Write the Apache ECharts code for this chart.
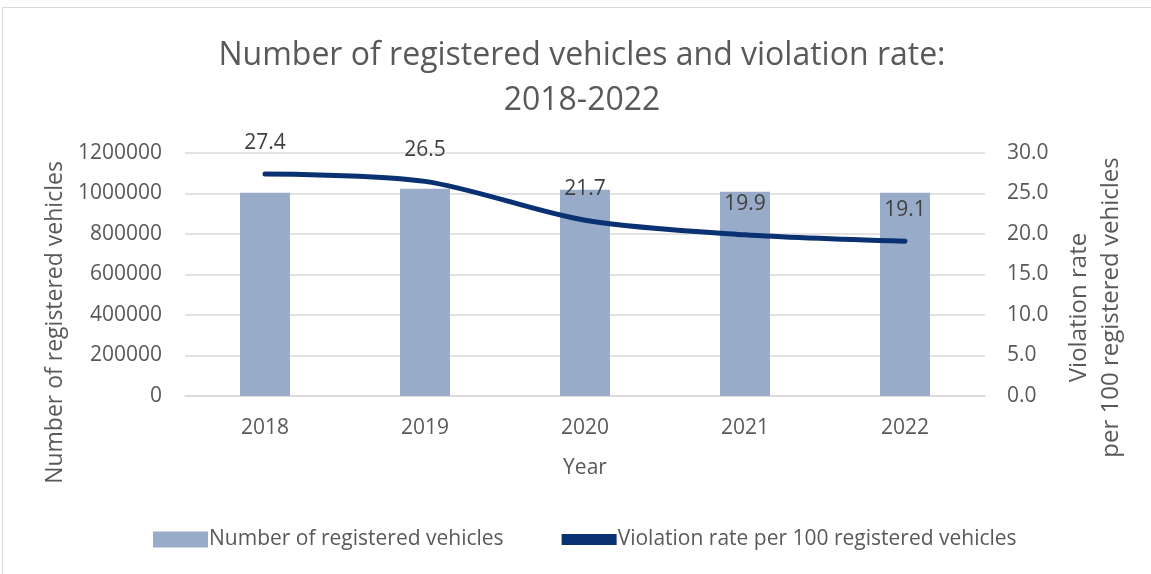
<!doctype html>
<html>
<head>
<meta charset="utf-8">
<title>Registered vehicles</title>
<script src="https://cdn.jsdelivr.net/npm/echarts@6/dist/echarts.min.js"></script>
<style>
    html,body{margin:0;padding:0;background:#fff;overflow:hidden;}
    #main{position:absolute;left:0;top:0;width:1151px;height:574px;}
    #frame{position:absolute;left:2px;top:7px;width:1200px;height:600px;border:1px solid #d9d9d9;}
</style>
</head>
<body>
<div id="main"></div>
<div id="frame"></div>
<script>
var years = ['2018', '2019', '2020', '2021', '2022'];
var vehicles = [1004000, 1024000, 1019000, 1009000, 1004000];
var violationRate = [27.4, 26.5, 21.7, 19.9, 19.1];
var leftTicks = [0, 1200000, 200000];
var rightTicks = [0, 30, 5];

var txt = '#595959';
var font = 'Open Sans';
var myChart = echarts.init(document.getElementById('main'));

var option = {
    backgroundColor: 'transparent',
    textStyle: {fontFamily: font},
    title: {
        text: 'Number of registered vehicles and violation rate:\n2018-2022',
        left: 577, top: 28, textAlign: 'center',
        textStyle: {fontFamily: font, fontSize: 32, fontWeight: 'normal', color: txt, lineHeight: 45}
    },
    legend: {
        top: 524, left: 148, itemGap: 58, itemWidth: 55, itemHeight: 16,
        textStyle: {fontFamily: font, fontSize: 21, color: txt, padding: [0, 0, 0, -4]},
        data: [
            {name: 'Number of registered vehicles', icon: 'rect'},
            {name: 'Violation rate per 100 registered vehicles', icon: 'path://M0,0 L10,0 L10,2 L0,2 Z'}
        ]
    },
    grid: {left: 185, right: 166, top: 153, bottom: 178},
    xAxis: {
        type: 'category', data: years,
        name: 'Year', nameLocation: 'middle', nameGap: 62,
        nameTextStyle: {fontSize: 21, color: txt, fontFamily: font},
        axisLine: {lineStyle: {color: '#d9d9d9', width: 1.5}},
        axisTick: {show: false},
        axisLabel: {fontSize: 21, color: txt, margin: 22, fontFamily: font}
    },
    yAxis: [{
        type: 'value', min: leftTicks[0], max: leftTicks[1], interval: leftTicks[2],
        name: 'Number of registered vehicles', nameLocation: 'middle', nameGap: 118,
        nameTextStyle: {fontSize: 23, color: txt, fontFamily: font, padding: [0, 96, 0, 0]},
        axisLine: {show: false}, axisTick: {show: false},
        axisLabel: {fontSize: 21, color: txt, margin: 23, fontFamily: font,
            formatter: function (v) { return String(v); }},
        splitLine: {lineStyle: {color: '#d9d9d9', width: 1.5}}
    }, {
        type: 'value', min: rightTicks[0], max: rightTicks[1], interval: rightTicks[2],
        name: 'Violation rate\nper 100 registered vehicles', nameLocation: 'middle', nameGap: 78, nameRotate: 90,
        nameTextStyle: {fontSize: 24, color: txt, fontFamily: font, lineHeight: 32, padding: [0, 66, 0, 0]},
        axisLine: {show: false}, axisTick: {show: false},
        axisLabel: {fontSize: 21, color: txt, margin: 22, fontFamily: font,
            formatter: function (v) { return v.toFixed(1); }},
        splitLine: {show: false}
    }],
    series: [{
        name: 'Number of registered vehicles', type: 'bar', barWidth: 50,
        itemStyle: {color: '#98abc8'},
        data: vehicles
    }, {
        name: 'Violation rate per 100 registered vehicles', type: 'line', yAxisIndex: 1,
        smooth: 0.3, symbol: 'circle', symbolSize: 1, showSymbol: true,
        lineStyle: {color: '#0a3172', width: 5, cap: 'round'},
        itemStyle: {color: '#0a3172'},
        label: {show: true, position: 'top', distance: 20, fontSize: 21, color: '#404040', fontFamily: font},
        data: violationRate
    }]
};
myChart.setOption(option);
</script>
</body>
</html>
